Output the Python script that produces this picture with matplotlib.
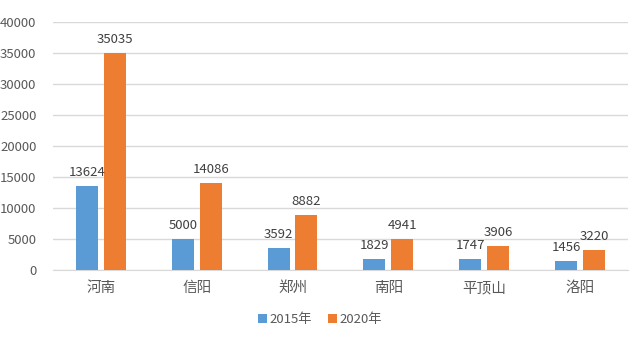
import matplotlib.pyplot as plt
import numpy as np

plt.rcParams['font.family'] = ['Noto Sans CJK SC', 'DejaVu Sans']

cities = ['河南', '信阳', '郑州', '南阳', '平顶山', '洛阳']
v2015 = [13624, 5000, 3592, 1829, 1747, 1456]
v2020 = [35035, 14086, 8882, 4941, 3906, 3220]
y_ticks = [0, 5000, 10000, 15000, 20000, 25000, 30000, 35000, 40000]

blue = '#5B9BD5'
orange = '#ED7D31'
txt = '#404040'

fig = plt.figure(figsize=(6.4, 3.38), dpi=100)
ax = fig.add_axes([0.083, 0.201, 0.898, 0.734])

x = np.arange(len(cities))
w = 0.23
off = 0.145
b1 = ax.bar(x - off, v2015, w, color=blue, label='2015年', zorder=3)
b2 = ax.bar(x + off, v2020, w, color=orange, label='2020年', zorder=3)

for bars, vals in ((b1, v2015), (b2, v2020)):
    for r, v in zip(bars, vals):
        ax.annotate(str(v), (r.get_x() + r.get_width() / 2, v),
                    xytext=(0, 5), textcoords='offset points',
                    ha='center', va='bottom', fontsize=9.5, color=txt)

ax.set_xlim(-0.5, len(cities) - 0.5)
ax.set_ylim(0, 40000)
ax.set_yticks(y_ticks)
ax.set_xticks(x)
ax.set_xticklabels(cities, fontsize=10.5, color='#595959')
ax.tick_params(axis='y', labelsize=9.5, labelcolor='#595959', length=0, pad=12)
ax.tick_params(axis='x', length=0, pad=8)

ax.grid(axis='y', color='#D9D9D9', linewidth=1, zorder=0)
for s in ('top', 'right', 'left'):
    ax.spines[s].set_visible(False)
ax.spines['bottom'].set_color('#D9D9D9')

fig.legend(loc='lower center', bbox_to_anchor=(0.5, 0.0), ncol=2,
           frameon=False, fontsize=9.5, handlelength=0.7, handleheight=0.7,
           handletextpad=0.2, columnspacing=1.2, labelcolor='#595959')

fig.savefig('out.png', dpi=100)
